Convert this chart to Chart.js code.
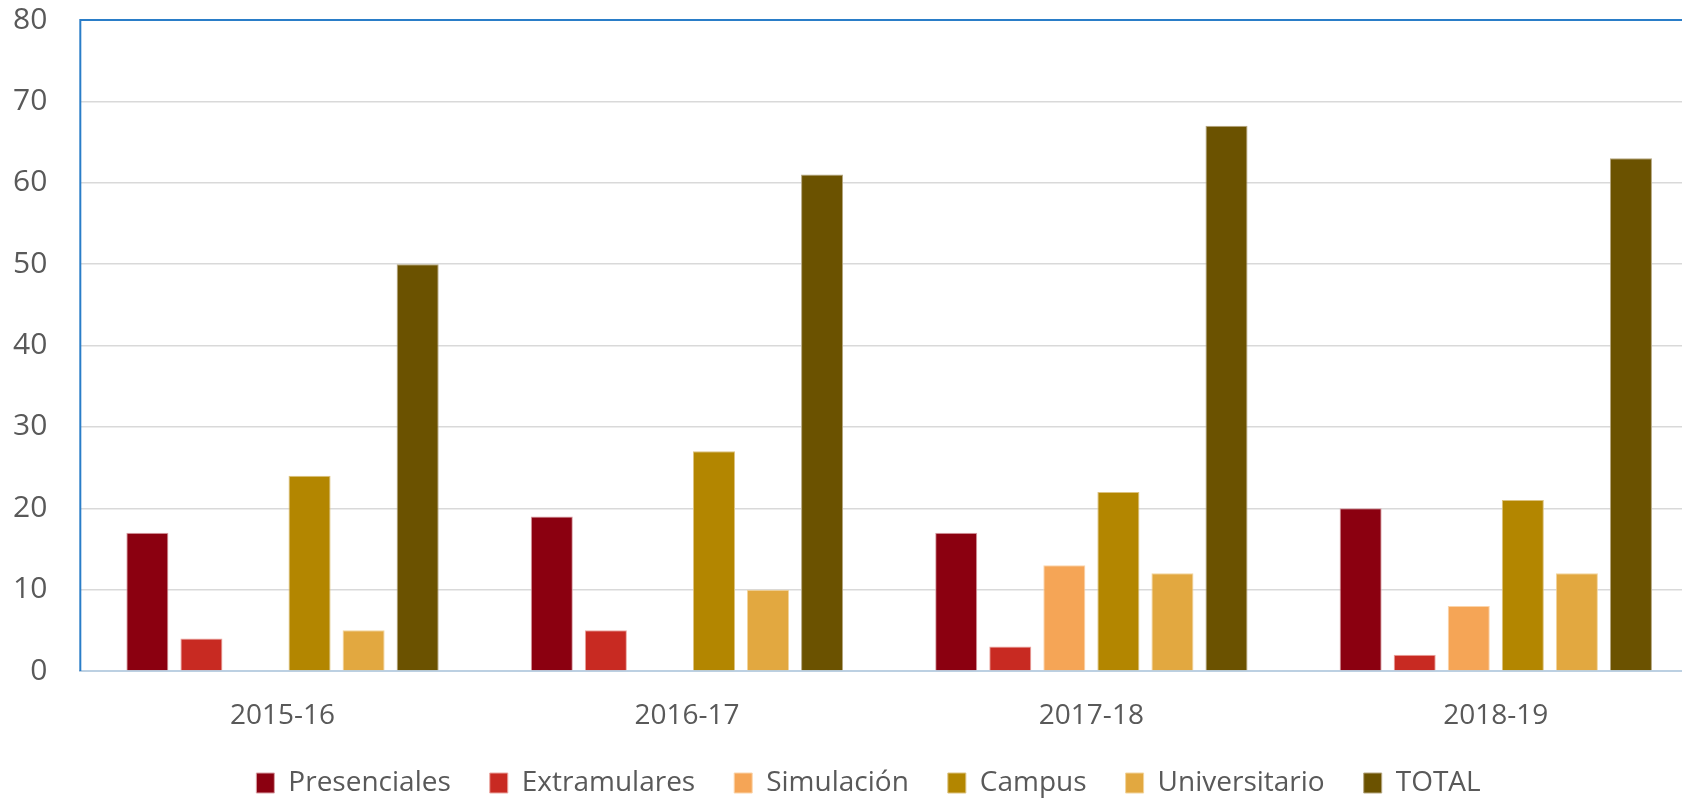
<!DOCTYPE html>
<html>
<head>
<meta charset="utf-8">
<script src="https://cdn.jsdelivr.net/npm/chart.js@4"></script>
<style>
  html, body { margin: 0; padding: 0; background: #ffffff; overflow: hidden; }
  #wrap { width: 1698px; height: 800px; position: relative; }
</style>
</head>
<body>
<div id="wrap"><canvas id="c"></canvas></div>
<script>
const categories = ["2015-16", "2016-17", "2017-18", "2018-19"];
const seriesNames = ["Presenciales", "Extramulares", "Simulación", "Campus", "Universitario", "TOTAL"];
const presenciales = [17, 19, 17, 20];
const extramulares = [4, 5, 3, 2];
const simulacion = [0, 0, 13, 8];
const campus = [24, 27, 22, 21];
const universitario = [5, 10, 12, 12];
const total = [50, 61, 67, 63];
const yTicks = [0, 10, 20, 30, 40, 50, 60, 70, 80];

const seriesValues = [presenciales, extramulares, simulacion, campus, universitario, total];
const fillColors = ["#8B0010", "#C82A22", "#F5A556", "#B38600", "#E2A840", "#6B5200"];
const edgeColors = ["#D9A0A6", "#EBA6A0", "#FBD4AA", "#DCC27F", "#F2D49C", "#B5A680"];

const frame = {
  id: "frame",
  afterLayout(chart) {
    // centre the legend row like the reference
    chart.legend.left += 13;
    chart.legend.right += 13;
  },
  afterDraw(chart) {
    const { ctx, chartArea: a } = chart;
    ctx.save();
    ctx.strokeStyle = "#2A7DC8";
    ctx.lineWidth = 2;
    ctx.beginPath();
    ctx.moveTo(a.left, a.bottom);
    ctx.lineTo(a.left, a.top);
    ctx.lineTo(a.right, a.top);
    ctx.stroke();
    ctx.restore();
  }
};

new Chart(document.getElementById("c"), {
  type: "bar",
  data: {
    labels: categories,
    datasets: seriesNames.map((n, i) => ({
      label: n,
      data: seriesValues[i],
      backgroundColor: fillColors[i],
      borderColor: edgeColors[i],
      borderWidth: 1,
      categoryPercentage: 0.802,
      barPercentage: 0.778
    }))
  },
  options: {
    responsive: true,
    maintainAspectRatio: false,
    animation: false,
    layout: { padding: { left: 13, top: 20, right: 0, bottom: -7 } },
    plugins: {
      tooltip: { enabled: false },
      legend: {
        position: "bottom",
        labels: {
          font: { family: "'Open Sans', sans-serif", size: 28 },
          color: "#595959",
          boxWidth: 18,
          boxHeight: 20,
          padding: 39
        }
      }
    },
    scales: {
      x: {
        grid: { display: true, drawOnChartArea: false, drawTicks: true, tickLength: 31, color: "rgba(0,0,0,0)", tickColor: "rgba(0,0,0,0)" },
        border: { display: true, color: "#BCD0E2", width: 2 },
        ticks: {
          font: { family: "'Open Sans', sans-serif", size: 28, lineHeight: 1.0 },
          color: "#595959",
          padding: 0
        }
      },
      y: {
        min: 0,
        max: 80,
        afterBuildTicks(axis) { axis.ticks = yTicks.map(v => ({ value: v })); },
        grid: { color: "#D9D9D9", lineWidth: 1.5, drawTicks: true, tickLength: 33, tickColor: "rgba(0,0,0,0)" },
        border: { display: false },
        ticks: {
          font: { family: "'Open Sans', sans-serif", size: 30 },
          color: "#595959",
          padding: 0
        }
      }
    }
  },
  plugins: [frame]
});
</script>
</body>
</html>
